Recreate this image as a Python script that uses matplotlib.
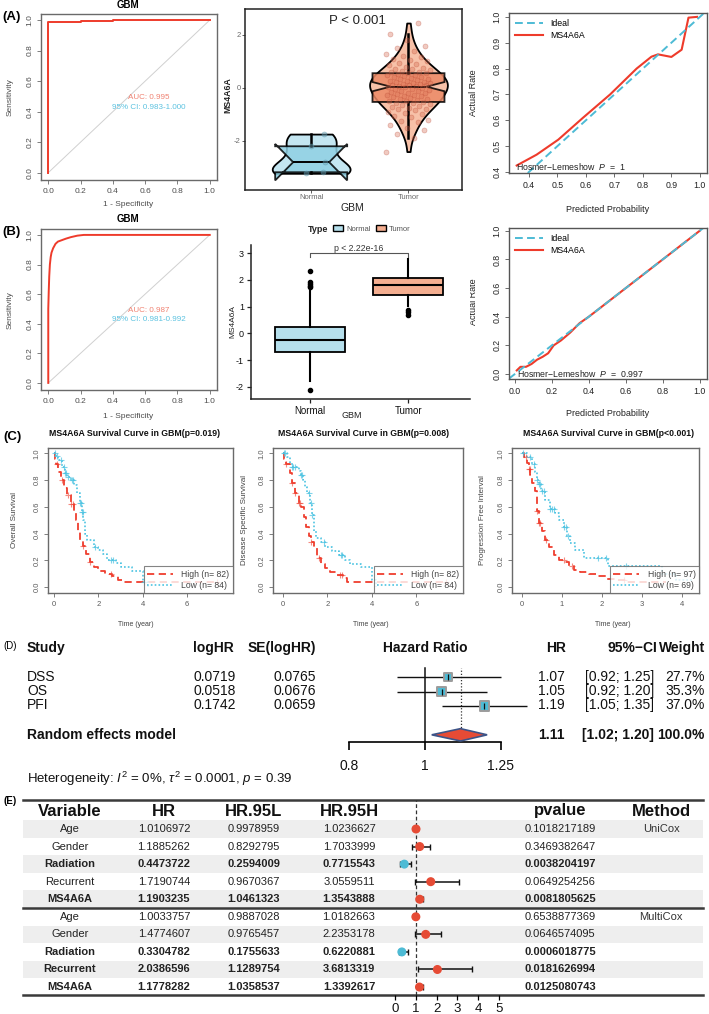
import numpy as np
import matplotlib
matplotlib.use('Agg')
import matplotlib.pyplot as plt
from matplotlib.patches import Rectangle, Polygon, Patch
from matplotlib.lines import Line2D
from matplotlib.ticker import NullLocator

plt.rcParams['font.family'] = ['Liberation Sans', 'DejaVu Sans']
plt.rcParams['mathtext.fontset'] = 'custom'
plt.rcParams['mathtext.rm'] = 'Liberation Sans'
plt.rcParams['mathtext.it'] = 'Liberation Sans:italic'
plt.rcParams['mathtext.bf'] = 'Liberation Sans:bold'

# ---------------- data ----------------
roc_ticks = [0.0, 0.2, 0.4, 0.6, 0.8, 1.0]
roc_a_fpr = [0, 0, 0.2, 0.2, 0.4, 0.4, 1.0]
roc_a_tpr = [0, 0.985, 0.985, 0.995, 0.995, 1.0, 1.0]
roc_a_auc = "AUC: 0.995"
roc_a_ci = "95% CI: 0.983-1.000"
roc_b_fpr = [0, 0, 0.003, 0.006, 0.01, 0.015, 0.02, 0.03, 0.045, 0.06, 0.085, 0.11, 0.14, 0.18, 0.22, 1.0]
roc_b_tpr = [0, 0.5, 0.62, 0.72, 0.8, 0.85, 0.88, 0.91, 0.94, 0.955, 0.965, 0.975, 0.985, 0.995, 1.0, 1.0]
roc_b_auc = "AUC: 0.987"
roc_b_ci = "95% CI: 0.981-0.992"

violin_groups = ['Normal', 'Tumor']
normal_a = [-1.74, -2.2, -2.8, -3.18, -3.22]
tumor_a = [-2.4, -1.9, -1.75, -1.6, -1.5, -1.4, -1.3, -1.25, -1.2, -1.1, -1.05, -1.0,
           -0.95, -0.9, -0.85, -0.8, -0.78, -0.75, -0.7, -0.68, -0.65, -0.6, -0.58, -0.55,
           -0.52, -0.5, -0.48, -0.45, -0.42, -0.4, -0.38, -0.35, -0.32, -0.3, -0.28, -0.25,
           -0.22, -0.2, -0.18, -0.15, -0.12, -0.1, -0.08, -0.05, -0.03, 0.0, 0.02, 0.04,
           0.06, 0.08, 0.1, 0.11, 0.12, 0.14, 0.16, 0.18, 0.2, 0.22, 0.24, 0.26, 0.28, 0.3,
           0.32, 0.35, 0.38, 0.4, 0.42, 0.45, 0.48, 0.5, 0.52, 0.55, 0.58, 0.6, 0.62, 0.65,
           0.68, 0.7, 0.72, 0.75, 0.8, 0.85, 0.9, 0.95, 1.0, 1.05, 1.1, 1.15, 1.2, 1.3, 1.4,
           1.5, 1.6, 1.8, 2.05, 2.45]
violin_p = "P < 0.001"

box_b_q1 = [-0.71, 1.43]
box_b_med = [-0.24, 1.79]
box_b_q3 = [0.24, 2.07]
box_b_lo = [-1.77, 1.04]
box_b_hi = [1.65, 2.77]
box_b_fliers = [[1.72, 1.78, 1.84, 1.9, 2.34, -2.13], [0.89, 0.8, 0.7]]
box_b_p = "p < 2.22e-16"

cal_a_pred = [0.357, 0.427, 0.503, 0.59, 0.685, 0.778, 0.83, 0.853, 0.9, 0.936, 0.96, 0.99]
cal_a_act = [0.425, 0.467, 0.525, 0.61, 0.70, 0.80, 0.846, 0.855, 0.845, 0.873, 0.997, 1.0]
cal_b_pred = [0.01, 0.03, 0.06, 0.09, 0.12, 0.15, 0.18, 0.21, 0.25, 0.3, 0.35, 0.4, 0.5, 0.6, 0.7, 0.8, 0.9, 1.0]
cal_b_act = [0.025, 0.05, 0.05, 0.07, 0.1, 0.12, 0.145, 0.2, 0.235, 0.29, 0.355, 0.4, 0.5, 0.6, 0.7, 0.8, 0.9, 1.0]
cal_a_hl = "Hosmer\u2212Lemeshow  $P$  =  1"
cal_b_hl = "Hosmer\u2212Lemeshow  $P$  =  0.997"

os_hi_t = [0, 0.05, 0.1, 0.2, 0.3, 0.45, 0.6, 0.75, 0.9, 1.0, 1.1, 1.15, 1.3, 1.45, 1.6, 1.8, 2.0, 2.3, 2.6, 2.9, 3.05, 7.4]
os_hi_s = [1.0, 0.96, 0.92, 0.86, 0.8, 0.74, 0.69, 0.62, 0.56, 0.5, 0.42, 0.35, 0.31, 0.25, 0.19, 0.15, 0.12, 0.1, 0.08, 0.05, 0.04, 0.04]
os_lo_t = [0, 0.1, 0.2, 0.35, 0.5, 0.6, 0.75, 0.9, 1.05, 1.15, 1.25, 1.32, 1.4, 1.5, 1.8, 2.0, 2.2, 2.4, 2.8, 3.0, 3.5, 4.0, 4.25]
os_lo_s = [1.0, 0.98, 0.95, 0.9, 0.85, 0.82, 0.8, 0.76, 0.7, 0.63, 0.56, 0.5, 0.4, 0.35, 0.3, 0.28, 0.25, 0.2, 0.18, 0.15, 0.12, 0.04, 0.0]
os_hi_c = [0.12, 0.35, 0.62, 0.78, 0.85, 1.32, 1.62, 2.55, 7.35]
os_lo_c = [0.05, 0.12, 0.3, 0.45, 0.5, 0.55, 0.65, 0.8, 0.85, 1.17, 1.2, 1.27, 1.3, 1.85, 2.55, 2.65, 4.05]

dss_hi_t = [0, 0.05, 0.15, 0.3, 0.4, 0.55, 0.7, 0.8, 0.95, 1.05, 1.15, 1.25, 1.4, 1.55, 1.7, 1.9, 2.1, 2.4, 2.7, 2.9, 7.4]
dss_hi_s = [1.0, 0.96, 0.92, 0.85, 0.78, 0.7, 0.63, 0.6, 0.52, 0.45, 0.38, 0.34, 0.3, 0.22, 0.17, 0.14, 0.11, 0.09, 0.07, 0.04, 0.04]
dss_lo_t = [0, 0.2, 0.3, 0.4, 0.7, 0.8, 0.9, 1.0, 1.1, 1.2, 1.3, 1.4, 1.5, 1.7, 1.9, 2.2, 2.5, 2.8, 3.0, 3.5, 4.0, 4.2]
dss_lo_s = [1.0, 0.97, 0.93, 0.9, 0.87, 0.84, 0.8, 0.75, 0.7, 0.63, 0.54, 0.42, 0.37, 0.34, 0.3, 0.27, 0.24, 0.2, 0.17, 0.15, 0.05, 0.0]
dss_hi_c = [0.15, 0.4, 0.55, 0.7, 0.78, 1.27, 1.6, 2.55, 2.65, 7.35]
dss_lo_c = [0.05, 0.1, 0.4, 0.45, 0.55, 0.8, 0.85, 1.15, 1.25, 1.32, 1.85, 2.6, 2.65]

pfi_hi_t = [0, 0.05, 0.12, 0.17, 0.21, 0.26, 0.33, 0.37, 0.42, 0.5, 0.58, 0.67, 0.8, 0.92, 1.08, 1.17, 1.3, 1.46, 1.67, 1.88, 2.13, 2.38, 2.6, 3.6]
pfi_hi_s = [1.0, 0.97, 0.93, 0.88, 0.84, 0.78, 0.72, 0.57, 0.48, 0.42, 0.35, 0.3, 0.24, 0.2, 0.19, 0.16, 0.13, 0.11, 0.1, 0.08, 0.06, 0.05, 0.04, 0.04]
pfi_lo_t = [0, 0.12, 0.25, 0.33, 0.37, 0.42, 0.47, 0.58, 0.7, 0.83, 0.92, 1.04, 1.12, 1.2, 1.33, 1.54, 2.15, 3.5, 3.85, 4.25]
pfi_lo_s = [1.0, 0.97, 0.92, 0.86, 0.8, 0.77, 0.72, 0.65, 0.58, 0.55, 0.5, 0.45, 0.38, 0.33, 0.28, 0.22, 0.16, 0.1, 0.05, 0.05]
pfi_hi_c = [0.1, 0.17, 0.2, 0.38, 0.42, 0.45, 0.6, 1.05, 1.25, 2.55]
pfi_lo_c = [0.02, 0.2, 0.3, 0.38, 0.42, 0.45, 0.5, 0.55, 0.7, 0.75, 0.8, 1.05, 1.1, 1.15, 1.9, 2.1, 2.6]

km_titles = ["MS4A6A Survival Curve in GBM(p=0.019)",
             "MS4A6A Survival Curve in GBM(p=0.008)",
             "MS4A6A Survival Curve in GBM(p<0.001)"]
km_ylabels = ["Overall Survival", "Disease Specific Survival", "Progression Free Interval"]
km_legends = [["High (n= 82)", "Low (n= 84)"], ["High (n= 82)", "Low (n= 84)"],
              ["High (n= 97)", "Low (n= 69)"]]

d_study = ['DSS', 'OS', 'PFI']
d_loghr = [0.0719, 0.0518, 0.1742]
d_se = [0.0765, 0.0676, 0.0659]
d_hr = [1.07, 1.05, 1.19]
d_lo = [0.92, 0.92, 1.05]
d_hi = [1.25, 1.20, 1.35]
d_weight = [27.7, 35.3, 37.0]
d_re_hr, d_re_lo, d_re_hi, d_re_w = 1.11, 1.02, 1.20, 100.0
d_ticks = [0.8, 1, 1.25]

e_var = ['Age', 'Gender', 'Radiation', 'Recurrent', 'MS4A6A',
         'Age', 'Gender', 'Radiation', 'Recurrent', 'MS4A6A']
e_hr = [1.0106972, 1.1885262, 0.4473722, 1.7190744, 1.1903235,
        1.0033757, 1.4774607, 0.3304782, 2.0386596, 1.1778282]
e_lo = [0.9978959, 0.8292795, 0.2594009, 0.9670367, 1.0461323,
        0.9887028, 0.9765457, 0.1755633, 1.1289754, 1.0358537]
e_hi = [1.0236627, 1.7033999, 0.7715543, 3.0559511, 1.3543888,
        1.0182663, 2.2353178, 0.6220881, 3.6813319, 1.3392617]
e_p = [0.1018217189, 0.3469382647, 0.0038204197, 0.0649254256, 0.0081805625,
       0.6538877369, 0.0646574095, 0.0006018775, 0.0181626994, 0.0125080743]
e_method = ['UniCox', '', '', '', '', 'MultiCox', '', '', '', '']
e_ticks = [0, 1, 2, 3, 4, 5]

RED = '#E64B35'
BLUE = '#4DBBD5'
KRED = '#EF3E2E'
KBLUE = '#4CC3E2'

# ---------------- layout helpers ----------------
W, H = 709, 1014
fig = plt.figure(figsize=(W / 100, H / 100), dpi=100)


def px_axes(l, t, r, b):
    return fig.add_axes([l / W, 1 - b / H, (r - l) / W, (b - t) / H])


ov = px_axes(0, 0, W, H)
ov.set_xlim(0, W)
ov.set_ylim(H, 0)
ov.axis('off')


def T(x, y, s, **kw):
    kw.setdefault('ha', 'center')
    kw.setdefault('va', 'center')
    ov.text(x, y, s, **kw)


def f1(v):
    return [f'{x:.1f}' for x in v]


def base_axes(ax, fs=6, lc='#4D4D4D', sc='#6A6A6A'):
    for s in ax.spines.values():
        s.set_color(sc)
        s.set_linewidth(1.0)
    ax.tick_params(direction='out', length=3, width=0.6, color=sc,
                   labelsize=fs, labelcolor=lc, pad=2.5)


# ---------------- Panel A / B : ROC ----------------
def roc(ax, fpr, tpr, auc_t, ci_t):
    base_axes(ax)
    ax.plot([roc_ticks[0], roc_ticks[-1]], [roc_ticks[0], roc_ticks[-1]], color='#D0D0D0', lw=0.7)
    ax.plot(fpr, tpr, color='#EE3B2B', lw=1.4)
    ax.set_xlim(-0.045, 1.045)
    ax.set_ylim(-0.048, 1.04)
    ax.set_xticks(roc_ticks, labels=f1(roc_ticks))
    ax.set_yticks(roc_ticks, labels=f1(roc_ticks), rotation=90, va='center')
    ax.text(0.62, 0.49, auc_t, color='#F08272', fontsize=5.8, ha='center', va='center')
    ax.text(0.62, 0.43, ci_t, color='#5BC2E0', fontsize=5.8, ha='center', va='center')


ax = px_axes(41, 14, 217, 180)
roc(ax, roc_a_fpr, roc_a_tpr, roc_a_auc, roc_a_ci)
T(128, 5, 'GBM', fontsize=7, fontweight='bold')
T(128, 204, '1 - Specificity', fontsize=6, color='#4D4D4D')
T(10, 97, 'Sensitivity', fontsize=6, color='#4D4D4D', rotation=90)

ax = px_axes(41, 229, 217, 390)
roc(ax, roc_b_fpr, roc_b_tpr, roc_b_auc, roc_b_ci)
T(128, 219, 'GBM', fontsize=7, fontweight='bold')
T(128, 417, '1 - Specificity', fontsize=6, color='#4D4D4D')
T(10, 310, 'Sensitivity', fontsize=6, color='#4D4D4D', rotation=90)

# ---------------- Panel A : violin ----------------
ax = px_axes(245, 9, 462, 190)
for s in ax.spines.values():
    s.set_color('#222222')
    s.set_linewidth(1.1)
ax.tick_params(direction='out', length=2, width=0.6, color='#444', labelsize=5.5,
               labelcolor='#6A6A6A', pad=1.2)
vcols = ['#C4E6F1', '#F7C1A8']
bcols = ['#8FD0E3', '#EC8A66']
for i, (vals, bw) in enumerate([(normal_a, 0.55), (tumor_a, 0.35)]):
    vp = ax.violinplot([vals], positions=[i + 1], widths=0.8, showextrema=False, bw_method=bw)
    for b in vp['bodies']:
        b.set_facecolor(vcols[i])
        b.set_edgecolor('black')
        b.set_linewidth(1.3)
        b.set_alpha(1)
bp = ax.boxplot([normal_a, tumor_a], positions=[1, 2], widths=0.74, notch=True,
                patch_artist=True, showfliers=False, showcaps=False,
                medianprops=dict(color='black', lw=1.4),
                whiskerprops=dict(color='black', lw=1.8),
                boxprops=dict(lw=1.3, edgecolor='black'))
for b, c in zip(bp['boxes'], bcols):
    b.set_facecolor(c)
    b.set_alpha(0.85)
jit_t = [((k * 0.6180339) % 1 - 0.5) * 0.46 for k in range(len(tumor_a))]
ax.scatter([2 + j for j in jit_t], tumor_a, s=13, color='#D4694F', alpha=0.35,
           edgecolors='#B8432D', linewidths=0.5, zorder=4)
jit_n = [0.13, 0.0, 0.14, 0.12, -0.05]
ax.scatter([1 + j for j in jit_n], normal_a, s=13, color='#6FA9BD', alpha=0.45,
           edgecolors='#4C8AA0', linewidths=0.5, zorder=4)
ax.set_xlim(0.32, 2.55)
ax.set_ylim(-3.85, 2.98)
ax.set_xticks([1, 2], labels=violin_groups)
ax.set_yticks([-2, 0, 2], labels=['-2', '0', '2'])
ax.text(0.52, 0.935, violin_p, transform=ax.transAxes, fontsize=9.5, ha='center', va='center',
        color='#222222')
T(352, 208, 'GBM', fontsize=7.5, color='#222222')
T(228, 95, 'MS4A6A', fontsize=6.3, rotation=90, fontweight='bold', color='#222222')

# ---------------- Panel B : boxplot ----------------
ax = px_axes(251, 245, 470, 399)
for k in ['top', 'right']:
    ax.spines[k].set_visible(False)
for k in ['left', 'bottom']:
    ax.spines[k].set_color('#222222')
    ax.spines[k].set_linewidth(1.1)
ax.tick_params(direction='out', length=3, width=0.9, color='#222', labelsize=6.5,
               labelcolor='#111111', pad=2)
stats = []
for i in range(2):
    stats.append(dict(med=box_b_med[i], q1=box_b_q1[i], q3=box_b_q3[i],
                      whislo=box_b_lo[i], whishi=box_b_hi[i], fliers=box_b_fliers[i]))
bb = ax.bxp(stats, positions=[1, 2], widths=0.72, patch_artist=True, showcaps=False,
            medianprops=dict(color='black', lw=1.5),
            whiskerprops=dict(color='black', lw=1.5),
            boxprops=dict(lw=1.3, edgecolor='black'),
            flierprops=dict(marker='o', markersize=3, markerfacecolor='black',
                            markeredgecolor='black'))
for b, c in zip(bb['boxes'], ['#B5DFEC', '#F4AE90']):
    b.set_facecolor(c)
ax.set_xlim(0.4, 2.63)
ax.set_ylim(-2.45, 3.3)
ax.set_xticks([1, 2], labels=violin_groups, fontsize=7)
ax.set_yticks([-2, -1, 0, 1, 2, 3], labels=['-2', '-1', '0', '1', '2', '3'])
ax.plot([1, 1, 2, 2], [2.87, 3.0, 3.0, 2.87], color='#555555', lw=0.8)
ax.text(1.5, 3.17, box_b_p, fontsize=6.3, ha='center', va='center', color='#333333')
T(352, 415, 'GBM', fontsize=6.5, color='#222222')
T(233, 322, 'MS4A6A', fontsize=6, rotation=90, color='#222222')
T(318, 229, 'Type', fontsize=6.5, fontweight='bold', color='#222222')
leg = ax.legend(handles=[Patch(facecolor='#B5DFEC', edgecolor='black', label='Normal'),
                         Patch(facecolor='#F4AE90', edgecolor='black', label='Tumor')],
                ncol=2, loc='center', bbox_to_anchor=(372 / W, 1 - 229 / H),
                bbox_transform=fig.transFigure, frameon=False, fontsize=5.5,
                handlelength=1.3, handleheight=0.9, columnspacing=0.7, handletextpad=0.4)
for t in leg.get_texts():
    t.set_color('#555555')


# ---------------- calibration ----------------
def calib(ax, pred, act, hl, xl, yl, ticks, hl_xy):
    for s in ax.spines.values():
        s.set_color('#555555')
        s.set_linewidth(1.0)
    ax.tick_params(direction='out', length=3, width=0.6, color='#555', labelsize=6.3,
                   labelcolor='#222222', pad=2.5)
    ax.plot(pred, act, color='#EE3B2B', lw=1.5, label='MS4A6A')
    ax.axline((0, 0), slope=1, color=BLUE, lw=1.4, ls=(0, (4, 2.2)), label='Ideal')
    ax.set_xlim(*xl)
    ax.set_ylim(*yl)
    ax.set_xticks(ticks, labels=f1(ticks))
    ax.set_yticks(ticks, labels=f1(ticks), rotation=90, va='center')
    h, l = ax.get_legend_handles_labels()
    ax.legend(h[::-1], l[::-1], loc='upper left', frameon=False, fontsize=6.3,
              handlelength=3.2, borderaxespad=0.3, labelspacing=0.3, handletextpad=0.8)
    ax.text(hl_xy[0], hl_xy[1], hl, fontsize=6.3, ha='left', va='center', color='#222')


ax = px_axes(509, 13, 707, 173)
calib(ax, cal_a_pred, cal_a_act, cal_a_hl, (0.33, 1.025), (0.396, 1.015),
      [0.4, 0.5, 0.6, 0.7, 0.8, 0.9, 1.0], (0.355, 0.42))
T(608, 209, 'Predicted Probability', fontsize=6.5, color='#222')
T(474, 93, 'Actual Rate', fontsize=6.5, color='#222', rotation=90)

ax = px_axes(509, 228, 707, 379)
calib(ax, cal_b_pred, cal_b_act, cal_b_hl, (-0.032, 1.04), (-0.035, 1.02),
      [0.0, 0.2, 0.4, 0.6, 0.8, 1.0], (0.01, 0.0))
T(608, 414, 'Predicted Probability', fontsize=6.5, color='#222')
T(474, 302, 'Actual Rate', fontsize=6.5, color='#222', rotation=90)


# ---------------- Panel C : KM ----------------
def step_at(t, s, c):
    idx = np.searchsorted(np.asarray(t), np.asarray(c), side='right') - 1
    return np.asarray(s)[idx]


def km(ax, th, sh, ch, tl, sl, cl, xl, xt, labels):
    base_axes(ax, fs=5.5, lc='#5A5A5A')
    ax.step(th, sh, where='post', color=KRED, ls=(0, (4, 2.5)), lw=1.3)
    ax.step(tl, sl, where='post', color=KBLUE, ls=(0, (1, 1.3)), lw=1.2)
    ax.plot(ch, step_at(th, sh, ch), ls='none', marker='+', color=KRED, ms=5, mew=0.8, alpha=0.6)
    ax.plot(cl, step_at(tl, sl, cl), ls='none', marker='+', color=KBLUE, ms=5, mew=0.8, alpha=0.7)
    ax.set_xlim(*xl)
    ax.set_ylim(-0.045, 1.04)
    ax.set_xticks(xt, labels=[str(v) for v in xt])
    yt = [0.0, 0.2, 0.4, 0.6, 0.8, 1.0]
    ax.set_yticks(yt, labels=f1(yt), rotation=90, va='center')
    hs = [Line2D([], [], color=KRED, ls=(0, (4, 2.5)), lw=1.3),
          Line2D([], [], color=KBLUE, ls=(0, (1, 1.3)), lw=1.2)]
    lg = ax.legend(hs, labels, loc='lower right', fancybox=False, edgecolor='#666666',
                   fontsize=6.2, handlelength=3.0, borderaxespad=0, borderpad=0.4,
                   labelspacing=0.2, handletextpad=1.0)
    lg.get_frame().set_linewidth(0.8)
    for t in lg.get_texts():
        t.set_color('#444444')


panels = [
    ((48, 448, 233, 593), (os_hi_t, os_hi_s, os_hi_c, os_lo_t, os_lo_s, os_lo_c), (-0.27, 8.06), [0, 2, 4, 6], 135, 15, 136),
    ((273, 448, 463, 593), (dss_hi_t, dss_hi_s, dss_hi_c, dss_lo_t, dss_lo_s, dss_lo_c), (-0.45, 8.1), [0, 2, 4, 6], 364, 244, 371),
    ((512, 448, 699, 593), (pfi_hi_t, pfi_hi_s, pfi_hi_c, pfi_lo_t, pfi_lo_s, pfi_lo_c), (-0.25, 4.43), [0, 1, 2, 3, 4], 609, 482, 613),
]
for k, (box, dat, xl, xt, tx, yx, xx) in enumerate(panels):
    ax = px_axes(*box)
    km(ax, *dat, xl, xt, km_legends[k])
    T(tx, 433, km_titles[k], fontsize=6.3, fontweight='bold', color='#111')
    T(yx, 520, km_ylabels[k], fontsize=5.8, rotation=90, color='#444')
    T(xx, 624, 'Time (year)', fontsize=5, color='#444')

# ---------------- Panel D : meta forest ----------------
hdr = dict(fontsize=10, fontweight='bold', color='#111')
T(27, 648, 'Study', ha='left', **hdr)
T(193, 648, 'logHR', ha='left', **hdr)
T(316, 648, 'SE(logHR)', ha='right', **hdr)
T(425, 648, 'Hazard Ratio', **hdr)
T(566, 648, 'HR', ha='right', **hdr)
T(657, 648, '95%\u2212CI', ha='right', **hdr)
T(705, 648, 'Weight', ha='right', **hdr)
row_px = [677, 691, 705]
for i in range(3):
    y = row_px[i]
    kw = dict(fontsize=10, color='#111')
    T(27, y, d_study[i], ha='left', **kw)
    T(193, y, f'{d_loghr[i]:.4f}', ha='left', **kw)
    T(316, y, f'{d_se[i]:.4f}', ha='right', **kw)
    T(565, y, f'{d_hr[i]:.2f}', ha='right', **kw)
    T(654, y, f'[{d_lo[i]:.2f}; {d_hi[i]:.2f}]', ha='right', **kw)
    T(705, y, f'{d_weight[i]:.1f}%', ha='right', **kw)
T(27, 735, 'Random effects model', ha='left', **hdr)
T(565, 735, f'{d_re_hr:.2f}', ha='right', **hdr)
T(654, 735, f'[{d_re_lo:.2f}; {d_re_hi:.2f}]', ha='right', **hdr)
T(705, 735, f'{d_re_w:.1f}%', ha='right', **hdr)
T(27, 779, 'Heterogeneity: $I^2$ = 0%, $\\tau^2$ = 0.0001, $p$ = 0.39', ha='left',
  fontsize=9.5, color='#111')

axd = px_axes(349, 665, 501, 742)
axd.patch.set_alpha(0)
axd.set_xscale('log')
axd.set_xlim(0.8, 1.25)
axd.set_ylim(0.5, 5.86)
d_rows = [5, 4, 3]
re_row = 1
for k in ['top', 'right', 'left']:
    axd.spines[k].set_visible(False)
axd.spines['bottom'].set_bounds(0.8, 1.25)
axd.spines['bottom'].set_linewidth(1.2)
axd.set_yticks([])
axd.set_xticks(d_ticks, labels=['0.8', '1', '1.25'])
axd.xaxis.set_minor_locator(NullLocator())
axd.tick_params(axis='x', direction='out', length=5.5, width=1.2, labelsize=10, pad=7,
                labelcolor='#111')
axd.axvline(1, ymin=0, ymax=0.96, color='#111', lw=1.1)
axd.axvline(d_re_hr, ymin=0.06, ymax=0.96, color='#333', lw=0.9, ls=(0, (1, 1.5)))
axd.hlines(d_rows, d_lo, d_hi, color='#111', lw=1.0, clip_on=False, zorder=2)
axd.scatter(d_hr, d_rows, marker='s', s=[1.25 * w for w in d_weight], color=BLUE,
            edgecolors='#9C9C9C', linewidths=1.4, zorder=3, clip_on=False)
axd.scatter(d_hr, d_rows, marker='|', s=14, color='#111', linewidths=0.9, zorder=4)
axd.add_patch(Polygon([(d_re_lo, re_row), (d_re_hr, re_row + 0.43), (d_re_hi, re_row),
                       (d_re_hr, re_row - 0.43)], closed=True, facecolor=RED,
                      edgecolor='#3C5488', lw=1.2, zorder=3))

# ---------------- Panel E : Cox table forest ----------------
row_h = 17.56
row0 = 829
for i in range(len(e_var)):
    if i % 2 == 0:
        ov.add_patch(Rectangle((23, row0 + i * row_h - row_h / 2), 680, row_h,
                               facecolor='#EEEEEE', edgecolor='none'))
for yl in [800, 907.5, 995]:
    ov.plot([23, 703], [yl, yl], color='#3A3A3A', lw=1.8)
eh = dict(fontsize=12, fontweight='bold', color='#111')
cols = [70, 164, 254, 349, 560, 661]
for x, s in zip(cols, ['Variable', 'HR', 'HR.95L', 'HR.95H', 'pvalue', 'Method']):
    T(x, 811, s, **eh)
for i in range(len(e_var)):
    y = row0 + i * row_h
    fw = 'bold' if e_p[i] < 0.05 else 'normal'
    kw = dict(fontsize=8, color='#222', fontweight=fw)
    T(cols[0], y, e_var[i], **kw)
    T(cols[1], y, f'{e_hr[i]:.7f}', **kw)
    T(cols[2], y, f'{e_lo[i]:.7f}', **kw)
    T(cols[3], y, f'{e_hi[i]:.7f}', **kw)
    T(cols[4], y, f'{e_p[i]:.10f}', **kw)
    T(cols[5], y, e_method[i], fontsize=8, color='#333')

axe = px_axes(385, 800, 520, 995)
axe.patch.set_alpha(0)
axe.set_xlim(-0.48, 6.01)
axe.set_ylim((995 - row0) / row_h, (800 - row0) / row_h)
for k in axe.spines:
    axe.spines[k].set_visible(False)
axe.set_yticks([])
axe.set_xticks(e_ticks, labels=[str(v) for v in e_ticks])
axe.tick_params(axis='x', direction='out', length=3.5, width=0.9, labelsize=9.5, pad=2,
                labelcolor='#111')
rows = np.arange(len(e_var))
hr = np.array(e_hr)
axe.axvline(1, color='#333', lw=0.9, ls=(0, (3, 2)))
axe.errorbar(hr, rows, xerr=[hr - np.array(e_lo), np.array(e_hi) - hr], fmt='none',
             ecolor='#111', elinewidth=1.1, capsize=2, capthick=1.0, zorder=2)
axe.scatter(hr, rows, s=30, color=[BLUE if v < 1 else RED for v in hr], zorder=3)

# ---------------- panel letters ----------------
T(2, 17, '(A)', fontsize=9.5, fontweight='bold', ha='left')
T(2, 232, '(B)', fontsize=9.5, fontweight='bold', ha='left')
T(3, 437, '(C)', fontsize=9.5, fontweight='bold', ha='left')
T(3, 646, '(D)', fontsize=7, ha='left')
T(3, 801, '(E)', fontsize=7, fontweight='bold', ha='left')

fig.savefig('out.png', dpi=100)
